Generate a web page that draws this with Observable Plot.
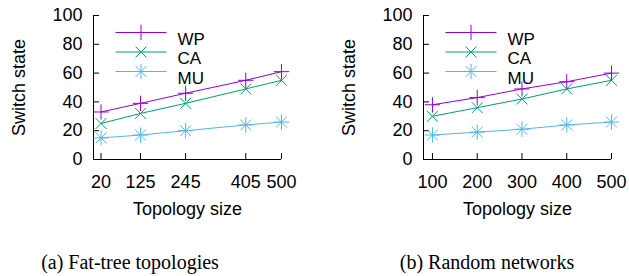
<!DOCTYPE html>
<html><head><meta charset="utf-8">
<script src="https://cdn.jsdelivr.net/npm/d3@7"></script>
<script src="https://cdn.jsdelivr.net/npm/@observablehq/plot@0.6"></script>
<style>
body{margin:0;background:#fff;}
#wrap{position:relative;width:629px;height:276px;overflow:hidden;background:#fff}
.panel{position:absolute;top:0}
.cap{position:absolute;font-family:"Liberation Serif","Times New Roman",serif;font-size:20px;line-height:20px;white-space:nowrap;transform:translateX(-50%);color:#000}
</style></head><body>
<div id="wrap"></div>
<script>
// ---- data ----
const series = ["WP", "CA", "MU"];
const seriesColors = ["#9400d3", "#009e73", "#56b4e9"];
const fatTreeSizes = [20, 125, 245, 405, 500];
const fatTreeWP = [33, 39, 46, 55, 61];
const fatTreeCA = [25, 32, 39, 49, 55];
const fatTreeMU = [15, 17, 20, 24, 26];
const randomSizes = [100, 200, 300, 400, 500];
const randomWP = [38, 43, 49, 54, 60];
const randomCA = [30, 36, 42, 49, 55];
const randomMU = [17, 19, 21, 24, 26];
const yTicks = [0, 20, 40, 60, 80, 100];
const fatTreeDomain = [0, 500];
const randomDomain = [80, 500];
const captions = ["(a) Fat-tree topologies", "(b) Random networks"];
const xLabel = "Topology size";
const yLabel = "Switch state";

// marker symbols per series (MU = plus + times overlaid, gnuplot style)
const seriesSymbols = {WP: ["plus"], CA: ["times"], MU: ["plus", "times"]};
const lineSymbol = {draw(ctx) { ctx.moveTo(-25.5, 0); ctx.lineTo(25.5, 0); }};

function rowsFor(sizes, cols) {
  const rows = [];
  series.forEach((s, i) => sizes.forEach((x, j) => rows.push({series: s, size: x, value: cols[i][j]})));
  return rows;
}

function panel(sizes, cols, domain, width, marginLeft, marginRight) {
  const rows = rowsFor(sizes, cols);
  const marks = [
    Plot.ruleY([yTicks[0]], {stroke: "#000"}),
    Plot.ruleX([domain[0]], {stroke: "#000"}),
    Plot.axisY({ticks: yTicks, tickSize: 6, dx: 6, tickFormat: () => "", label: null}),
    Plot.axisY({ticks: yTicks, tickSize: 0, tickPadding: 11, fontSize: 18, label: null}),
    Plot.axisX({ticks: sizes, tickSize: 6, dy: -6, tickFormat: () => "", label: null}),
    Plot.axisX({ticks: sizes, tickSize: 0, tickPadding: 16, fontSize: 18, label: null}),
    Plot.text([xLabel], {frameAnchor: "bottom", dy: 43, lineAnchor: "top", textAnchor: "middle", text: d => d, fontSize: 18}),
    Plot.text([yLabel], {frameAnchor: "left", dx: -74.5, rotate: -90, textAnchor: "middle", lineAnchor: "middle", text: d => d, fontSize: 18}),
    Plot.line(rows, {x: "size", y: "value", z: "series", stroke: "series", strokeWidth: 1})
  ];
  series.forEach((s, i) => {
    const sub = rows.filter(r => r.series === s);
    seriesSymbols[s].forEach(sym => {
      marks.push(Plot.dot(sub, {x: "size", y: "value", symbol: sym, stroke: seriesColors[i], fill: "none", r: 5, strokeWidth: 1}));
    });
    // legend entry
    const dy = 17 + 19.5 * i;
    marks.push(Plot.dot([s], {frameAnchor: "top-left", dx: 47.5, dy, symbol: lineSymbol, stroke: seriesColors[i], strokeWidth: 1}));
    seriesSymbols[s].forEach(sym => {
      marks.push(Plot.dot([s], {frameAnchor: "top-left", dx: 47.5, dy, symbol: sym, stroke: seriesColors[i], fill: "none", r: 5, strokeWidth: 1}));
    });
    marks.push(Plot.text([s], {frameAnchor: "top-left", dx: 84, dy, text: d => d, textAnchor: "start", fontSize: 17}));
  });
  return Plot.plot({
    width, height: 220,
    marginLeft, marginRight, marginTop: 15, marginBottom: 61,
    x: {domain, axis: null},
    y: {domain: [0, 100], axis: null},
    color: {domain: series, range: seriesColors},
    style: {fontFamily: "'Liberation Sans', Arial, Helvetica, sans-serif", fontSize: "18px", color: "#000", background: "transparent", overflow: "visible"},
    marks
  });
}

const wrap = document.getElementById("wrap");
const left = panel(fatTreeSizes, [fatTreeWP, fatTreeCA, fatTreeMU], fatTreeDomain, 320, 93, 39);
left.classList.add("panel"); left.style.left = "0px";
const right = panel(randomSizes, [randomWP, randomCA, randomMU], randomDomain, 309, 103, 18);
right.classList.add("panel"); right.style.left = "320px";
wrap.append(left, right);

[[captions[0], 130], [captions[1], 487]].forEach(([t, cx]) => {
  const d = document.createElement("div");
  d.className = "cap"; d.textContent = t;
  d.style.left = cx + "px"; d.style.top = "252px";
  wrap.append(d);
});
</script>
</body></html>
